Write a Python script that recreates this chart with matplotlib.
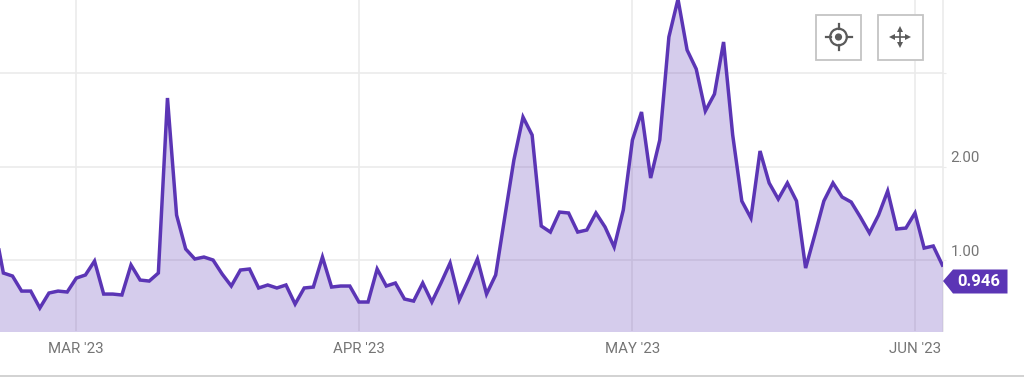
import pandas as pd
import matplotlib
matplotlib.use('Agg')
import matplotlib.pyplot as plt
from matplotlib.patches import Rectangle, Polygon, Circle
from matplotlib.transforms import Affine2D

plt.rcParams['font.family'] = ['Roboto', 'DejaVu Sans']

LINE = '#5b35b5'
GRID = '#ebebeb'
TEXT = '#757575'

start_date = '2023-02-20'
end_date = '2023-06-04'
values = [
    1.374, 0.861, 0.829, 0.668, 0.668, 0.487, 0.647, 0.668, 0.658,
    0.807, 0.840, 0.989, 0.636, 0.636, 0.626, 0.947, 0.786, 0.775, 0.861,
    2.733, 1.481, 1.118, 1.011, 1.032, 1.000, 0.850, 0.722, 0.893, 0.904,
    0.701, 0.733, 0.701, 0.733, 0.529, 0.701, 0.711, 1.032, 0.711, 0.722, 0.722,
    0.551, 0.551, 0.904, 0.722, 0.754, 0.583, 0.561, 0.754, 0.551, 0.754,
    0.968, 0.572, 0.786, 1.011, 0.636, 0.840, 1.460, 2.070, 2.529, 2.337,
    1.364, 1.299, 1.513, 1.503, 1.299, 1.321, 1.503, 1.353, 1.139, 1.535,
    2.283, 2.583, 1.877, 2.283, 3.385, 3.790, 3.246, 3.043, 2.594, 2.775,
    3.332, 2.337, 1.631, 1.449, 2.166, 1.824, 1.652, 1.824, 1.631, 0.914,
    1.267, 1.631, 1.824, 1.674, 1.620, 1.460, 1.289, 1.481, 1.738, 1.332,
    1.342, 1.503, 1.128, 1.150, 0.946,
]
month_ticks = ['2023-03-01', '2023-04-01', '2023-05-01', '2023-06-01']
month_labels = ["MAR '23", "APR '23", "MAY '23", "JUN '23"]
y_ticks = [1, 2, 3]
y_labels = ['1.00', '2.00', '']
last_label = '0.946'

dates = pd.date_range(start_date, end_date)

fig = plt.figure(figsize=(10.24, 3.77), dpi=100)
ax = fig.add_axes([0, 46 / 377, 943 / 1024, 331 / 377])

ax.fill_between(dates, values, 0, color=LINE, alpha=0.25, lw=0, zorder=3)
ax.plot(dates, values, color=LINE, lw=2.5, solid_joinstyle='miter', zorder=4)

ax.set_xlim(pd.Timestamp('2023-03-01') - pd.Timedelta(days=8.37),
            pd.Timestamp('2023-06-04 01:40'))
ax.set_ylim(0.241, 3.781)

ax.set_xticks(pd.to_datetime(month_ticks))
ax.set_xticklabels(month_labels)
ax.set_yticks(y_ticks)
ax.set_yticklabels(y_labels)
ax.yaxis.tick_right()
ax.grid(True, color=GRID, lw=1.2, zorder=1)
ax.set_axisbelow(True)
ax.tick_params(axis='x', length=0, pad=8, labelsize=10.8, labelcolor=TEXT)
ax.tick_params(axis='y', length=2, color=GRID, pad=3.5, labelsize=10.8, labelcolor=TEXT)
for lab in ax.get_yticklabels():
    lab.set_va('bottom')
    lab.set_transform(lab.get_transform() + Affine2D().translate(0, 1.5))
for side in ['top', 'left', 'bottom']:
    ax.spines[side].set_visible(False)
ax.spines['right'].set_color(GRID)
ax.spines['right'].set_linewidth(1.2)

# overlay in pixels for the badge, the buttons and the bottom rule
ov = fig.add_axes([0, 0, 1, 1], facecolor='none')
ov.set_xlim(0, 1024)
ov.set_ylim(377, 0)
ov.axis('off')

ov.plot([0, 1024], [375.5, 375.5], color='#cfcfcf', lw=1.3)

ov.add_patch(Polygon([(943, 281), (953, 269.5), (1007.5, 269.5), (1007.5, 293.5), (953, 293.5)],
                     closed=True, fc=LINE, ec='none'))
ov.text(978.5, 281.5, last_label, color='white', fontsize=12, fontweight='bold',
        ha='center', va='center')

BTN_EDGE = '#c4c4c4'
ICON = '#5a5a5a'
ov.add_patch(Rectangle((816, 14.5), 45, 45, fc='white', ec=BTN_EDGE, lw=1.3, zorder=5))
ov.add_patch(Rectangle((877.5, 14.5), 45, 45, fc='white', ec=BTN_EDGE, lw=1.3, zorder=5))

# target button
cx, cy = 838.5, 37
ov.add_patch(Circle((cx, cy), 8.3, fc='none', ec=ICON, lw=1.6, zorder=6))
ov.add_patch(Circle((cx, cy), 3.6, fc=ICON, ec='none', zorder=6))
for x0, y0, x1, y1 in [(cx - 13, cy, cx - 8, cy), (cx + 8, cy, cx + 13, cy),
                       (cx, cy - 13, cx, cy - 8), (cx, cy + 8, cx, cy + 13)]:
    ov.plot([x0, x1], [y0, y1], color=ICON, lw=1.6, zorder=6)

# move button
mx, my = 899.5, 37
ov.plot([mx - 8, mx + 8], [my, my], color=ICON, lw=1.2, zorder=6)
ov.plot([mx, mx], [my - 8, my + 8], color=ICON, lw=1.2, zorder=6)
for px, py, mark in [(mx - 8, my, '<'), (mx + 8, my, '>'), (mx, my - 8, '^'), (mx, my + 8, 'v')]:
    ov.plot([px], [py], marker=mark, ms=4.5, color=ICON, mew=0, zorder=6)

fig.savefig('out.png', dpi=100)
